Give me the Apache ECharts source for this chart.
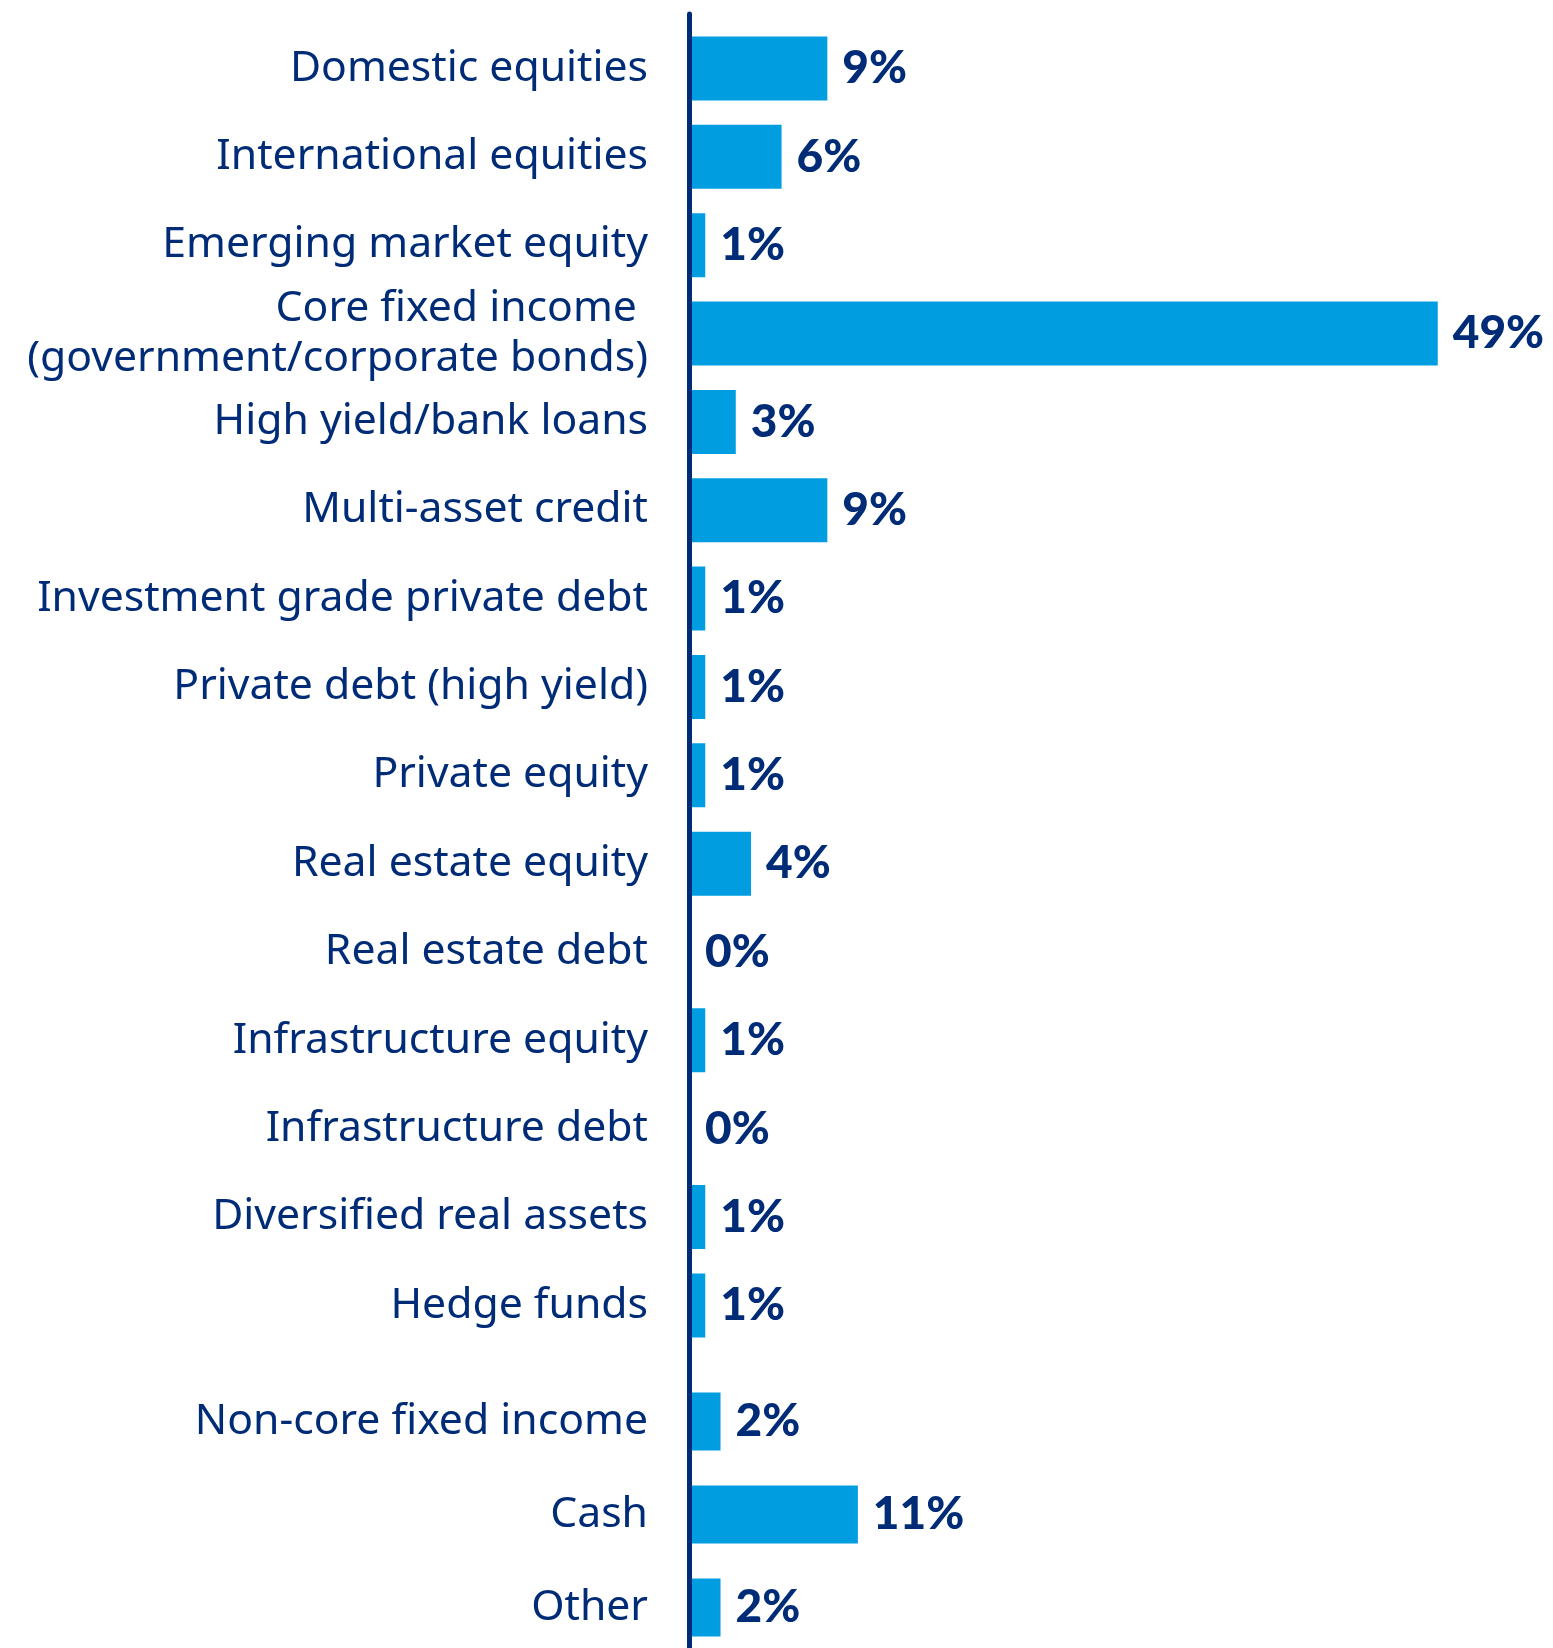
<!DOCTYPE html>
<html>
<head>
<meta charset="utf-8">
<title>Asset allocation</title>
<script src="https://cdn.jsdelivr.net/npm/echarts@6/dist/echarts.min.js"></script>
<style>
  html, body { margin: 0; padding: 0; background: #ffffff; }
  #chart { width: 1553px; height: 1648px; }
</style>
</head>
<body>
<div id="chart"></div>
<script>
// Main asset classes (upper block)
const mainCategories = [
  'Domestic equities',
  'International equities',
  'Emerging market equity',
  'Core fixed income \n(government/corporate bonds)',
  'High yield/bank loans',
  'Multi-asset credit',
  'Investment grade private debt',
  'Private debt (high yield)',
  'Private equity',
  'Real estate equity',
  'Real estate debt',
  'Infrastructure equity',
  'Infrastructure debt',
  'Diversified real assets',
  'Hedge funds'
];
const mainValues = [9, 6, 1, 49, 3, 9, 1, 1, 1, 4, 0, 1, 0, 1, 1];

// Remaining holdings (lower block)
const otherCategories = ['Non-core fixed income', 'Cash', 'Other'];
const otherValues = [2, 11, 2];

const NAVY = '#002c77';
const BLUE = '#009ee0';

const chart = echarts.init(document.getElementById('chart'), null, { renderer: 'canvas' });

const valueMax = 50;
const plotLeft = 690;
const plotRight = 100;

const categoryLabel = {
  margin: 42,
  fontSize: 42.7,
  fontFamily: '"Noto Sans", "Open Sans", sans-serif',
  color: NAVY,
  lineHeight: 50,
  align: 'right',
  padding: [0, 0, 9, 0]
};

const valueLabel = {
  show: true,
  position: 'right',
  distance: 15,
  formatter: '{c}%',
  fontSize: 46,
  fontWeight: 900,
  fontFamily: 'Lato, "Open Sans", sans-serif',
  color: NAVY
};

const hiddenValueAxis = (gridIndex) => ({
  type: 'value',
  gridIndex,
  min: 0,
  max: valueMax,
  show: false
});

const categoryAxis = (gridIndex, data, boundaryGap) => ({
  type: 'category',
  gridIndex,
  data,
  inverse: true,
  boundaryGap,
  axisLine: { show: false },
  axisTick: { show: false },
  splitLine: { show: false },
  axisLabel: categoryLabel
});

chart.setOption({
  animation: false,
  backgroundColor: '#ffffff',
  grid: [
    { left: plotLeft, right: plotRight, top: 24.3, height: 1325.3 },
    // lower block: categories sit on the grid edges and its middle
    { left: plotLeft, right: plotRight, top: 1421.5, height: 186 },
    // grid that only carries the vertical baseline running the full height
    { left: 689.5, width: 10, top: 14, bottom: 0 }
  ],
  xAxis: [
    hiddenValueAxis(0),
    hiddenValueAxis(1),
    { type: 'value', gridIndex: 2, show: false }
  ],
  yAxis: [
    categoryAxis(0, mainCategories, true),
    categoryAxis(1, otherCategories, false),
    {
      type: 'value',
      gridIndex: 2,
      z: 10,
      axisLine: { show: true, lineStyle: { color: NAVY, width: 5 } },
      axisTick: { show: false },
      axisLabel: { show: false },
      splitLine: { show: false }
    }
  ],
  series: [
    {
      type: 'bar',
      xAxisIndex: 0,
      yAxisIndex: 0,
      data: mainValues,
      barWidth: 64,
      itemStyle: { color: BLUE },
      label: valueLabel
    },
    {
      type: 'bar',
      xAxisIndex: 1,
      yAxisIndex: 1,
      data: otherValues,
      barWidth: 58,
      itemStyle: { color: BLUE },
      label: valueLabel
    }
  ]
});
</script>
</body>
</html>
